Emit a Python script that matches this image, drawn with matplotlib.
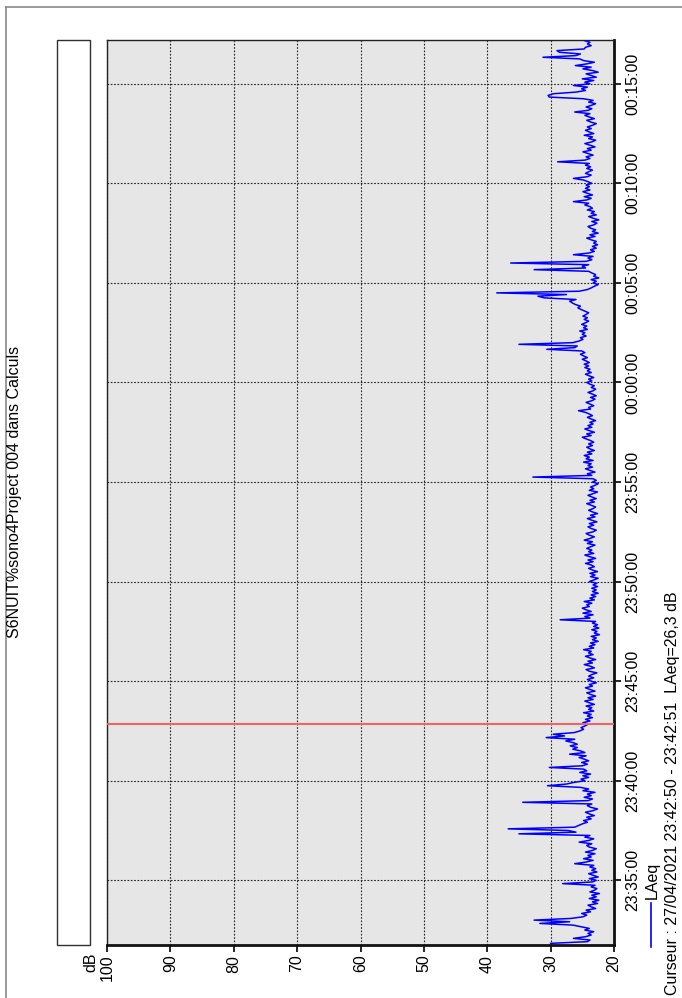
import numpy as np
import pandas as pd
import matplotlib
matplotlib.use('Agg')
import matplotlib.pyplot as plt
import matplotlib.dates as mdates
from matplotlib.lines import Line2D
from matplotlib.patches import Rectangle

plt.rcParams['font.family'] = ['Liberation Sans', 'DejaVu Sans']

# LAeq record, one value every 5 s, one row per minute
start_time = '2021-04-27 23:31:50'
step = '5s'
laeq = [
    30.0, 24.2, 23.8, 26.4, 24.5, 23.6, 24.1, 23.2, 24.6, 23.9, 25.2, 26.5,
    31.7, 27.0, 32.6, 26.8, 24.9, 24.3, 25.1, 23.7, 24.4, 22.9, 23.6, 24.1,
    22.6, 23.4, 22.4, 23.9, 22.8, 23.5, 22.3, 23.8, 23.1, 22.7, 23.6, 23.0,
    28.1, 23.4, 22.8, 23.9, 22.5, 23.3, 24.0, 22.7, 23.5, 22.9, 23.8, 23.2,
    26.2, 24.4, 23.3, 24.8, 23.6, 24.1, 23.0, 24.5, 23.4, 22.8, 23.9, 24.3,
    23.5, 25.5, 24.0, 23.2, 24.6, 23.8, 35.0, 26.0, 27.2, 36.7, 26.2, 25.6,
    25.0, 24.2, 24.8, 23.6, 24.3, 23.1, 23.9, 24.5, 23.3, 22.6, 23.7, 24.2,
    23.5, 34.4, 24.1, 23.4, 24.7, 23.6, 24.2, 23.0, 24.9, 24.0, 25.3, 30.5,
    27.5, 26.3, 24.6, 25.2, 24.0, 24.9, 23.7, 25.4, 24.3, 24.8, 30.2, 25.0,
    24.2, 25.1, 24.0, 24.7, 25.5, 24.4, 27.0, 24.6, 25.3, 26.5, 25.8, 26.9,
    25.8, 26.5, 27.6, 26.2, 30.7, 27.8, 29.6, 26.3, 25.4, 24.8, 25.2, 24.6,
    24.1, 24.9, 23.8, 24.5, 23.4, 24.2, 23.6, 24.8, 23.2, 24.0, 23.5, 24.4,
    23.1, 23.9, 24.6, 23.3, 24.1, 22.9, 23.7, 24.3, 23.0, 23.8, 24.5, 23.4,
    23.9, 22.8, 23.6, 24.2, 23.2, 24.0, 23.5, 22.7, 23.9, 24.4, 23.1, 23.7,
    24.7, 23.4, 24.1, 22.9, 23.8, 24.5, 23.3, 24.0, 23.6, 24.8, 23.2, 23.9,
    23.0, 23.7, 22.5, 23.4, 22.8, 23.6, 22.3, 23.1, 22.7, 23.5, 22.4, 23.2,
    22.6, 23.4, 22.9, 28.5, 23.8, 24.6, 23.3, 24.9, 23.6, 24.4, 25.0, 23.9,
    24.3, 23.5, 24.7, 23.1, 23.8, 22.9, 23.6, 22.5, 23.4, 22.8, 23.5, 22.6,
    23.3, 22.7, 23.9, 23.2, 22.5, 23.7, 23.0, 23.8, 22.6, 23.4, 24.0, 23.1,
    23.6, 24.5, 23.3, 24.1, 22.9, 23.8, 24.6, 23.2, 24.0, 23.5, 24.3, 23.7,
    23.0, 24.2, 23.4, 24.7, 23.8, 23.1, 23.9, 24.4, 23.3, 22.8, 23.6, 24.1,
    23.2, 23.9, 22.7, 23.5, 24.2, 23.0, 23.7, 22.6, 23.4, 24.0, 23.3, 22.9,
    23.6, 24.3, 23.1, 23.8, 22.8, 23.5, 24.1, 23.3, 22.6, 23.9, 23.2, 23.7,
    23.0, 22.5, 23.4, 22.8, 23.3, 32.8, 23.5, 24.2, 23.0, 23.8, 24.5, 23.4,
    24.1, 23.6, 24.8, 23.3, 24.4, 23.9, 24.7, 23.5, 24.2, 23.1, 23.8, 24.3,
    23.4, 24.0, 23.2, 23.7, 24.4, 25.0, 23.6, 24.3, 23.1, 23.9, 24.6, 23.5,
    24.1, 23.3, 23.8, 22.9, 23.6, 24.2, 23.4, 23.9, 24.5, 25.6, 23.7, 24.0,
    23.2, 23.8, 24.4, 23.5, 23.0, 23.7, 22.8, 23.4, 24.1, 23.3, 22.9, 23.6,
    23.1, 23.8, 24.3, 23.5, 24.0, 23.2, 23.9, 24.5, 23.6, 24.2, 23.8, 24.6,
    24.0, 24.7, 23.9, 24.4, 25.0, 24.2, 24.8, 25.3, 24.6, 25.1, 30.6, 26.2,
    25.8, 35.0, 26.5, 25.5, 24.9, 25.3, 24.4, 25.0, 24.6, 25.4, 24.2, 24.8,
    24.3, 25.1, 24.5, 24.0, 24.7, 24.2, 24.9, 24.4, 24.0, 24.6, 25.2, 25.7,
    25.3, 26.1, 26.6, 27.0, 26.0, 31.0, 32.0, 27.5, 38.5, 25.5, 24.2, 23.6,
    23.1, 22.5, 23.3, 22.8, 23.6, 22.4, 23.2, 22.9, 23.5, 24.0, 32.6, 24.5,
    25.0, 24.0, 36.3, 24.4, 23.5, 24.1, 23.3, 26.4, 24.0, 23.1, 23.7, 22.8,
    23.4, 22.6, 23.2, 22.8, 23.6, 24.3, 23.0, 23.8, 22.5, 23.4, 22.9, 23.7,
    24.1, 23.2, 22.7, 23.5, 22.4, 23.3, 24.0, 22.8, 23.6, 23.1, 24.2, 23.4,
    23.8, 24.6, 24.0, 26.4, 24.3, 23.6, 24.7, 23.4, 24.2, 24.9, 23.8, 24.5,
    23.9, 24.4, 23.5, 24.1, 24.8, 26.4, 24.2, 23.6, 24.5, 24.0, 23.4, 24.3,
    23.7, 24.5, 23.9, 28.9, 24.6, 23.8, 24.4, 23.3, 24.1, 24.9, 23.6, 24.2,
    23.0, 23.8, 24.6, 23.5, 22.9, 24.0, 23.4, 24.7, 23.2, 23.9, 24.5, 23.6,
    24.2, 23.4, 22.8, 23.7, 24.3, 23.1, 23.9, 24.6, 23.8, 26.2, 24.1, 23.5,
    24.4, 23.6, 22.9, 24.0, 23.3, 24.8, 30.2, 30.4, 29.6, 26.0, 24.5, 25.1,
    24.2, 26.4, 23.8, 24.6, 23.2, 25.0, 22.8, 23.6, 24.4, 22.5, 23.4, 24.9,
    23.6, 26.1, 24.3, 23.1, 24.8, 25.4, 31.2, 26.0, 25.3, 28.6, 29.0, 24.7,
    24.5, 23.6, 24.2, 23.8, 24.6,
]

cursor_time = '2021-04-27 23:42:50.5'
cursor_text = 'Curseur : 27/04/2021 23:42:50 - 23:42:51  LAeq=26,3 dB'
title = 'S6NUIT%sono4Project 004 dans Calculs'
db_ticks = [100, 90, 80, 70, 60, 50, 40, 30, 20]
t_min = '2021-04-27 23:31:45'
t_max = '2021-04-28 00:17:12'

times = pd.date_range(start_time, periods=len(laeq), freq=step)

W, H = 682, 998
FS = 11.5
fig = plt.figure(figsize=(W / 100, H / 100), dpi=100)

# panel frame (top and left edges only)
fig.add_artist(Line2D([6 / W, 1], [1 - 7 / H, 1 - 7 / H], color='#8a8a8a', lw=1.2))
fig.add_artist(Line2D([6 / W, 6 / W], [0, 1 - 7 / H], color='#8a8a8a', lw=1.2))

# empty box on the left
fig.add_artist(Rectangle((57 / W, 1 - 945 / H), 33 / W, 905 / H, transform=fig.transFigure,
                         facecolor='white', edgecolor='#303030', lw=1))

ax = fig.add_axes([107 / W, 1 - 945 / H, (614 - 107) / W, (945 - 40) / H])
ax.set_facecolor('#e6e6e6')
ax.plot(laeq, times, color='#0000ff', lw=1.1, zorder=3)
ax.axhline(pd.Timestamp(cursor_time), color='#f06464', lw=1.5, zorder=4)

ax.set_xlim(100, 20)
ax.set_ylim(pd.Timestamp(t_min), pd.Timestamp(t_max))
ax.set_xticks(db_ticks)
ax.yaxis.tick_right()
ax.yaxis.set_major_locator(mdates.MinuteLocator(byminute=range(0, 60, 5)))
ax.yaxis.set_major_formatter(mdates.DateFormatter('%H:%M:%S'))

ax.grid(True, color='#222222', linestyle=(0, (1.5, 1.5)), lw=0.8, zorder=1)
ax.set_axisbelow(True)
ax.tick_params(axis='x', direction='out', length=5, width=1.2, labelsize=FS,
               labelrotation=90, pad=2)
ax.tick_params(axis='y', direction='out', length=5, width=1.2, labelsize=FS,
               labelrotation=90, pad=3)
plt.setp(ax.get_yticklabels(), va='center')

for side in ['left', 'top']:
    ax.spines[side].set_linewidth(1.0)
    ax.spines[side].set_color('#222222')
for side in ['right', 'bottom']:
    ax.spines[side].set_linewidth(2.0)
    ax.spines[side].set_color('#111111')

# rotated texts
fig.text(15 / W, 1 - 492 / H, title, rotation=90, ha='center', va='center', fontsize=FS)
fig.text(91 / W, 1 - 962 / H, 'dB', rotation=90, ha='center', va='center', fontsize=FS)
fig.add_artist(Line2D([651 / W, 651 / W], [1 - 947 / H, 1 - 903 / H], color='#0000ff', lw=1.2))
fig.text(652 / W, 1 - 880 / H, 'LAeq', rotation=90, ha='center', va='center', fontsize=FS)
fig.text(673 / W, 3 / H, cursor_text, rotation=90, ha='center', va='bottom', fontsize=FS)

fig.savefig('out.png', dpi=100)
